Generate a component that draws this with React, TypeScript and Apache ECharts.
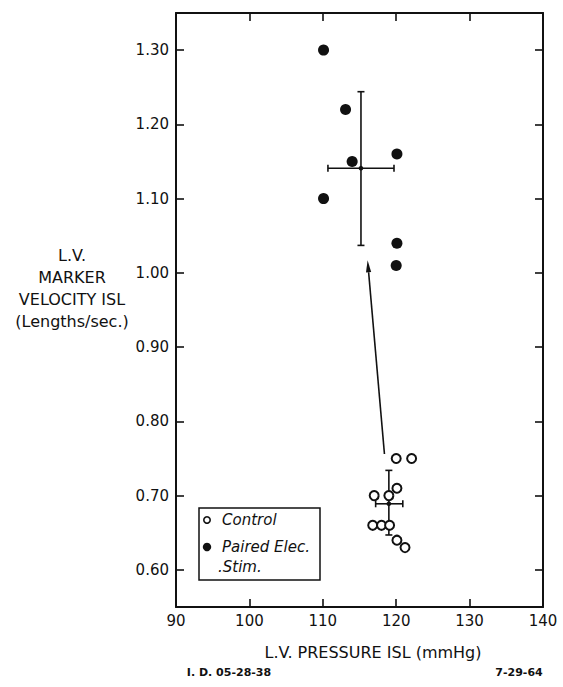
import React, { useEffect, useRef } from "react";
import * as echarts from "echarts";

const xTicks = [90, 100, 110, 120, 130, 140];
const yTicks = [0.6, 0.7, 0.8, 0.9, 1.0, 1.1, 1.2, 1.3];

const controlPoints: number[][] = [
  [120.0, 0.75], [122.1, 0.75], [120.1, 0.71], [117.0, 0.70], [119.0, 0.70],
  [116.8, 0.66], [118.0, 0.66], [119.1, 0.66], [120.1, 0.64], [121.2, 0.63],
];
const pairedPoints: number[][] = [
  [110.1, 1.30], [113.1, 1.22], [114.0, 1.15], [120.1, 1.16],
  [110.1, 1.10], [120.1, 1.04], [120.0, 1.01],
];
// [meanX, meanY, xLow, xHigh, yLow, yHigh]
const controlMean = [119.0, 0.689, 117.2, 120.9, 0.647, 0.734];
const pairedMean = [115.2, 1.141, 110.7, 119.7, 1.037, 1.244];
const arrowFrom = [118.4, 0.756];
const arrowTo = [116.1, 1.017];

const FONT = "'DejaVu Sans', sans-serif";
const INK = "#111";

export default function App() {
  const ref = useRef<HTMLDivElement>(null);
  useEffect(() => {
    if (!ref.current) return;
    const chart = echarts.init(ref.current, undefined, { renderer: "svg" });

    const errRender = (params: any, api: any) => {
      const mx = api.value(0), my = api.value(1);
      const c = api.coord([mx, my]);
      const l = api.coord([api.value(2), my]);
      const r = api.coord([api.value(3), my]);
      const b = api.coord([mx, api.value(4)]);
      const t = api.coord([mx, api.value(5)]);
      const cap = 3.5;
      const st = { stroke: INK, lineWidth: 1.6 };
      return {
        type: "group",
        children: [
          { type: "line", shape: { x1: l[0], y1: l[1], x2: r[0], y2: r[1] }, style: st },
          { type: "line", shape: { x1: l[0], y1: l[1] - cap, x2: l[0], y2: l[1] + cap }, style: st },
          { type: "line", shape: { x1: r[0], y1: r[1] - cap, x2: r[0], y2: r[1] + cap }, style: st },
          { type: "line", shape: { x1: b[0], y1: b[1], x2: t[0], y2: t[1] }, style: st },
          { type: "line", shape: { x1: b[0] - cap, y1: b[1], x2: b[0] + cap, y2: b[1] }, style: st },
          { type: "line", shape: { x1: t[0] - cap, y1: t[1], x2: t[0] + cap, y2: t[1] }, style: st },
          { type: "circle", shape: { cx: c[0], cy: c[1], r: 2.3 }, style: { fill: INK } },
        ],
      };
    };

    const arrowRender = (params: any, api: any) => {
      const p0 = api.coord([api.value(0), api.value(1)]);
      const p1 = api.coord([api.value(2), api.value(3)]);
      const dx = p1[0] - p0[0], dy = p1[1] - p0[1];
      const len = Math.sqrt(dx * dx + dy * dy);
      const ux = dx / len, uy = dy / len;
      const hl = 12, hw = 2.6;
      const bx = p1[0] - ux * hl, by = p1[1] - uy * hl;
      return {
        type: "group",
        children: [
          { type: "line", shape: { x1: p0[0], y1: p0[1], x2: bx, y2: by }, style: { stroke: INK, lineWidth: 1.6 } },
          {
            type: "polygon",
            shape: { points: [[p1[0], p1[1]], [bx - uy * hw, by + ux * hw], [bx + uy * hw, by - ux * hw]] },
            style: { fill: INK },
          },
        ],
      };
    };

    const axisCommon = {
      type: "value" as const,
      axisLine: { show: true, onZero: false, lineStyle: { color: INK, width: 2 } },
      axisTick: { show: true, inside: true, length: 8, lineStyle: { color: INK, width: 1.6 } },
      splitLine: { show: false },
    };

    chart.setOption({
      animation: false,
      backgroundColor: "#fff",
      grid: { left: 176, right: 20, top: 13, bottom: 80 },
      xAxis: [
        {
          ...axisCommon,
          position: "bottom",
          min: 90, max: 140, interval: 10,
          axisLabel: {
            show: true, margin: 6, color: INK, fontFamily: FONT, fontSize: 15,
            customValues: xTicks,
          },
          axisTick: { ...axisCommon.axisTick, customValues: xTicks },
        },
        {
          ...axisCommon,
          position: "top",
          min: 90, max: 140, interval: 10,
          axisLabel: { show: false },
          axisTick: { ...axisCommon.axisTick, customValues: xTicks },
        },
      ],
      yAxis: [
        {
          ...axisCommon,
          position: "left",
          min: 0.55, max: 1.35,
          axisLabel: {
            show: true, margin: 7, color: INK, fontFamily: FONT, fontSize: 15,
            customValues: yTicks,
            formatter: (v: number) => v.toFixed(2),
          },
          axisTick: { ...axisCommon.axisTick, customValues: yTicks },
        },
        {
          ...axisCommon,
          position: "right",
          min: 0.55, max: 1.35,
          axisLabel: { show: false },
          axisTick: { ...axisCommon.axisTick, customValues: yTicks },
        },
      ],
      series: [
        {
          type: "custom",
          name: "errbars",
          renderItem: errRender,
          data: [controlMean, pairedMean],
          encode: { x: [0, 2, 3], y: [1, 4, 5] },
          silent: true,
          z: 1,
        },
        {
          type: "custom",
          name: "arrow",
          renderItem: arrowRender,
          data: [[arrowFrom[0], arrowFrom[1], arrowTo[0], arrowTo[1]]],
          encode: { x: [0, 2], y: [1, 3] },
          silent: true,
          z: 1,
        },
        {
          type: "scatter",
          name: "Control",
          data: controlPoints,
          symbol: "circle",
          symbolSize: 9,
          itemStyle: { color: "#fff", borderColor: INK, borderWidth: 2, opacity: 1 },
          z: 3,
        },
        {
          type: "scatter",
          name: "Paired Elec. Stim.",
          data: pairedPoints,
          symbol: "circle",
          symbolSize: 11,
          itemStyle: { color: INK, opacity: 1 },
          z: 3,
        },
      ],
      graphic: [
        {
          type: "text",
          x: 72, y: 244,
          style: {
            text: "L.V.\nMARKER\nVELOCITY ISL\n(Lengths/sec.)",
            textAlign: "center",
            fill: INK, font: `16px ${FONT}`, lineHeight: 22,
          },
        },
        {
          type: "text",
          x: 373, y: 652,
          style: {
            text: "L.V. PRESSURE ISL (mmHg)",
            textAlign: "center", textVerticalAlign: "middle",
            fill: INK, font: `16px ${FONT}`,
          },
        },
        {
          type: "text",
          x: 229, y: 672,
          style: {
            text: "I. D. 05-28-38",
            textAlign: "center", textVerticalAlign: "middle",
            fill: INK, font: `bold 11px ${FONT}`,
          },
        },
        {
          type: "text",
          x: 519, y: 672,
          style: {
            text: "7-29-64",
            textAlign: "center", textVerticalAlign: "middle",
            fill: INK, font: `bold 11px ${FONT}`,
          },
        },
        {
          type: "group",
          children: [
            {
              type: "rect",
              shape: { x: 199, y: 508, width: 121, height: 72 },
              style: { fill: "#fff", stroke: INK, lineWidth: 1.5 },
            },
            {
              type: "circle",
              shape: { cx: 207, cy: 520, r: 3.2 },
              style: { fill: "#fff", stroke: INK, lineWidth: 1.6 },
            },
            {
              type: "circle",
              shape: { cx: 207, cy: 547, r: 4.2 },
              style: { fill: INK },
            },
            {
              type: "text",
              x: 222, y: 520,
              style: { text: "Control", textVerticalAlign: "middle", fill: INK, font: `italic 15px ${FONT}` },
            },
            {
              type: "text",
              x: 222, y: 547,
              style: { text: "Paired Elec.", textVerticalAlign: "middle", fill: INK, font: `italic 15px ${FONT}` },
            },
            {
              type: "text",
              x: 218, y: 567,
              style: { text: ".Stim.", textVerticalAlign: "middle", fill: INK, font: `italic 15px ${FONT}` },
            },
          ],
        },
      ],
    });
    return () => chart.dispose();
  }, []);

  return (
    <div
      ref={ref}
      style={{ position: "absolute", left: 0, top: 0, width: 563, height: 687, background: "#fff" }}
    />
  );
}
